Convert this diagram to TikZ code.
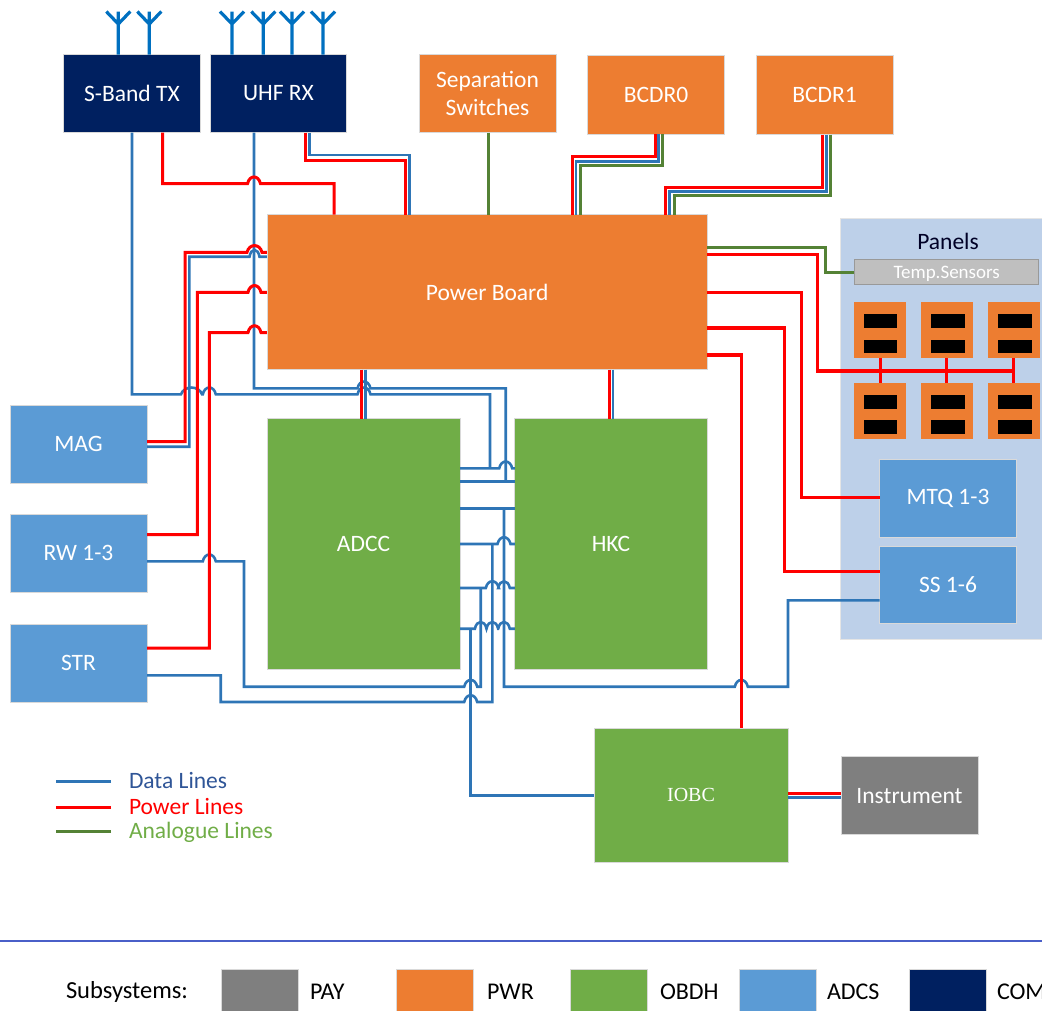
\documentclass[tikz,border=0pt]{standalone}
\usepackage{fontspec}
\setmainfont{Carlito}
\newfontfamily\iobcfont{Liberation Serif}
\usepackage{xcolor}
\usetikzlibrary{calc,positioning}

\definecolor{pwrorange}{HTML}{ED7D31}
\definecolor{obdhgreen}{HTML}{70AD47}
\definecolor{adcsblue}{HTML}{5B9BD5}
\definecolor{comnavy}{HTML}{002060}
\definecolor{paygrey}{HTML}{7F7F7F}
\definecolor{panelblue}{HTML}{BDD0E9}
\definecolor{dataline}{HTML}{2E75B6}
\definecolor{anaLine}{HTML}{548235}
\definecolor{antblue}{HTML}{0070C0}
\definecolor{datatext}{HTML}{2F5597}
\definecolor{rulecol}{HTML}{4A5FC8}

% wire hump over a crossing line: {half width}{x}{y}
\newcommand{\hop}[3]{-- (#2-#1,#3) .. controls (#2-#1*0.7,#3-9) and (#2+#1*0.7,#3-9) .. (#2+#1,#3)}

\begin{document}
\begin{tikzpicture}[
    x=1pt, y=-1pt,
    every node/.style={font=\fontsize{23.5}{27}\selectfont, outer sep=0pt, inner sep=0pt},
    blk/.style={rectangle, draw=black!15, line width=0.7pt, text=white, align=center,
                minimum width=137pt, minimum height=78pt},
    com/.style={blk, fill=comnavy},
    pwr/.style={blk, fill=pwrorange},
    obdh/.style={blk, fill=obdhgreen},
    adcs/.style={blk, fill=adcsblue},
    pay/.style={blk, fill=paygrey},
    cell/.style={rectangle, fill=pwrorange, minimum width=52pt, minimum height=56pt},
    bar/.style={rectangle, fill=black, minimum width=33.5pt, minimum height=14pt},
    data/.style={draw=dataline, line width=2.6pt, line join=miter},
    bus/.style={data, line width=3.6pt},
    pow/.style={draw=red, line width=3pt, line join=miter},
    powt/.style={pow, line width=3.4pt},
    ana/.style={draw=anaLine, line width=3pt, line join=miter},
    ant/.style={draw=antblue, line width=3.2pt},
    lbl/.style={anchor=west, text height=18pt, text depth=4pt}
]
\useasboundingbox (0,0) rectangle (1042,1010);

% panels background goes first
\node[rectangle, fill=panelblue, draw=black!10, line width=0.5pt, anchor=north west,
      minimum width=202pt, minimum height=421pt] (panels) at (840.5,218) {};
\node[anchor=center, text=black!85!blue] (paneltitle) at (948,241) {Panels};
\node[rectangle, fill=black!25, draw=black!40, line width=1pt, text=white, text height=12.5pt, text depth=0pt,
      minimum width=184.5pt, minimum height=25.5pt, font=\fontsize{19}{21}\selectfont] (temp) at (946.7,272.2) {Temp.Sensors};

% solar cells
\foreach \cx/\bx/\nm in {880.2/880.3/a, 947/948/b, 1013.5/1015/c}
  \foreach \cy/\ro in {330.3/t, 411/b} {
    \node[cell] (cell\nm\ro) at (\cx,\cy) {};
    \node[bar] (bar\nm\ro) at (\bx,\cy-9.5) {};
    \node[bar, minimum height=13.5pt] (baz\nm\ro) at (\bx,\cy+16) {};
  }

% boxes
\node[com] (sband) at (132,93.5) {S-Band TX};
\node[com, minimum width=136pt, right=10pt of sband] (uhf) {UHF RX};
\node[pwr] (sep) at (487.5,93.5) {Separation\\[1pt]Switches};
\node[pwr, minimum height=79pt] (bcdr0) at (656,94.5) {BCDR0};
\node[pwr, minimum height=79pt] (bcdr1) at (824.5,95) {BCDR1};
\node[pwr, minimum width=440.5pt, minimum height=155pt] (pb) at (487.2,292) {Power Board};
\node[obdh, minimum width=193pt, minimum height=250.5pt] (adcc) at (363.5,543.8) {ADCC};
\node[obdh, minimum width=192.5pt, minimum height=250.5pt] (hkc) at (611,543.8) {HKC};
\node[adcs] (mag) at (78.5,444) {MAG};
\node[adcs] (rw) at (78.5,553) {RW 1-3};
\node[adcs] (str) at (78.5,663) {STR};
\node[adcs] (mtq) at (948,498) {MTQ 1-3};
\node[adcs, minimum height=77.5pt] (ss) at (948,584.7) {SS 1-6};
\node[obdh, minimum width=194pt, minimum height=134pt, font=\iobcfont\fontsize{20}{24}\selectfont] (iobc) at (691,795) {IOBC};
\node[pay] (instr) at (909.5,795.7) {Instrument};

% antennas
\foreach \ax in {118.3,149.3,232,263.3,292,323}
  \draw[ant] (\ax,0 |- sband.north) -- ++(0,-43) ++(-12,0) -- ++(12,12.5) -- ++(12,-12.5);

% data lines
\draw[data] (132,0 |- sband.south) -- (132,394.3) \hop{10.5}{191.5}{394.3} \hop{6.5}{209.3}{394.3} \hop{6.5}{364}{394.3} -- (490,394.3) -- (490,468.3);
\draw[data] (254,0 |- uhf.south) -- (254,388.3) \hop{6.5}{364}{388.3} -- (505.7,388.3) -- (505.7,481.3);
\draw[data] (309.3,0 |- uhf.south) -- (309.3,155) -- (409.3,155) -- (409.3,0 |- pb.north);
\draw[data] (658.7,0 |- bcdr0.south) -- (658.7,161.7) -- (576,161.7) -- (576,0 |- pb.north);
\draw[data] (826.7,0 |- bcdr1.south) -- (826.7,191.3) -- (669.7,191.3) -- (669.7,0 |- pb.north);
\draw[data] (mag.east |- 0,446.7) -- (189.3,446.7) -- (189.3,256.7) \hop{5}{254.5}{256.7} -- (pb.west |- 0,256.7);
\draw[data] (365.7,0 |- pb.south) -- (365.7,0 |- adcc.north);
\draw[data] (613,0 |- pb.south) -- (613,0 |- hkc.north);
\draw[data] (adcc.east |- 0,468.3) \hop{6.5}{505.7}{468.3} -- (hkc.west |- 0,468.3);
\draw[bus] (adcc.east |- 0,481.3) -- (hkc.west |- 0,481.3);
\draw[bus] (adcc.east |- 0,508.3) -- (hkc.west |- 0,508.3);
\draw[data] (adcc.east |- 0,544) \hop{6.5}{504}{544} -- (hkc.west |- 0,544);
\draw[data] (adcc.east |- 0,588) \hop{6.5}{492.3}{588} \hop{5.8}{504}{588} -- (hkc.west |- 0,588);
\draw[data] (adcc.east |- 0,628.7) \hop{5.8}{480.7}{628.7} \hop{5.8}{492.3}{628.7} \hop{5.8}{504}{628.7} -- (hkc.west |- 0,628.7);
\draw[data] (504,508.3) -- (504,686.7) \hop{6.5}{741.3}{686.7} -- (788,686.7) -- (788,600.3) -- (ss.west |- 0,600.3);
\draw[data] (rw.east |- 0,561.3) \hop{6.5}{209.3}{561.3} -- (244,561.3) -- (244,686.7) \hop{6.5}{470.7}{686.7} -- (480.7,686.7) -- (480.7,588);
\draw[data] (str.east |- 0,675.3) -- (220.7,675.3) -- (220.7,702) \hop{6.5}{470.7}{702} -- (492.3,702) -- (492.3,544);
\draw[data, line width=3pt] (470.7,628.7) -- (470.7,795) -- (iobc.west |- 0,795);
\draw[data] (iobc.east |- 0,797.3) -- (instr.west |- 0,797.3);

% power lines
\draw[pow] (162.7,0 |- sband.south) -- (162.7,183.7) \hop{6.5}{254}{183.7} -- (334,183.7) -- (334,0 |- pb.north);
\draw[pow] (305.3,0 |- uhf.south) -- (305.3,160) -- (405.3,160) -- (405.3,0 |- pb.north);
\draw[pow] (655,0 |- bcdr0.south) -- (655,156.7) -- (572.3,156.7) -- (572.3,0 |- pb.north);
\draw[pow] (822.7,0 |- bcdr1.south) -- (822.7,187.3) -- (665.7,187.3) -- (665.7,0 |- pb.north);
\draw[pow] (mag.east |- 0,441.7) -- (185,441.7) -- (185,252.3) \hop{7.5}{254.5}{252.3} -- (pb.west |- 0,252.3);
\draw[pow] (rw.east |- 0,534.7) -- (197.3,534.7) -- (197.3,292.3) \hop{6.5}{254.5}{292.3} -- (pb.west |- 0,292.3);
\draw[pow] (str.east |- 0,648) -- (209.3,648) -- (209.3,332.5) \hop{6.5}{254.5}{332.5} -- (pb.west |- 0,332.5);
\draw[pow] (361.7,0 |- pb.south) -- (361.7,0 |- adcc.north);
\draw[pow] (609,0 |- pb.south) -- (609,0 |- hkc.north);
\draw[powt] (pb.east |- 0,254.7) -- (817.7,254.7) -- (817.7,371) -- (1013.7,371);
\draw[powt] (880.3,0 |- cellat.south) -- (880.3,0 |- cellab.north);
\draw[powt] (946.7,0 |- cellbt.south) -- (946.7,0 |- cellbb.north);
\draw[powt] (1013.7,0 |- cellct.south) -- (1013.7,0 |- cellcb.north);
\draw[powt] (pb.east |- 0,292.7) -- (801.3,292.7) -- (801.3,497.3) -- (mtq.west |- 0,497.3);
\draw[powt] (pb.east |- 0,328) -- (784.3,328) -- (784.3,571.7) -- (ss.west |- 0,571.7);
\draw[powt] (pb.east |- 0,355) -- (741.3,355) -- (741.3,0 |- iobc.north);
\draw[pow] (iobc.east |- 0,793.3) -- (instr.west |- 0,793.3);

% analogue lines
\draw[ana] (488,0 |- sep.south) -- (488,0 |- pb.north);
\draw[ana] (662.3,0 |- bcdr0.south) -- (662.3,165.7) -- (580,165.7) -- (580,0 |- pb.north);
\draw[ana] (830.7,0 |- bcdr1.south) -- (830.7,195.7) -- (674,195.7) -- (674,0 |- pb.north);
\draw[ana] (pb.east |- 0,247.7) -- (825.3,247.7) -- (825.3,272.3) -- (temp.west |- 0,272.3);

% line legend
\coordinate (ldata) at (111,781);
\coordinate (lpow) at (111,807);
\coordinate (lana) at (111,831);
\draw[data, line width=3pt] (ldata) -- ++(-55,0);
\draw[pow] (lpow) -- ++(-55,0);
\draw[ana] (lana) -- ++(-55,0);
\node[lbl, right=18pt of ldata, text=datatext] (tdata) {Data Lines};
\node[lbl, right=18pt of lpow, text=red] (tpow) {Power Lines};
\node[lbl, right=18pt of lana, text=obdhgreen] (tana) {Analogue Lines};

% subsystem key
\draw[line width=2.4pt, draw=rulecol] (0,941) coordinate (rulea) -- (1042,941) coordinate (ruleb);
\node[lbl, font=\fontsize{24.5}{28}\selectfont] (keytitle) at (66,991) {Subsystems:};
\foreach \kx/\lx/\fc/\kname in {221/310/paygrey/PAY, 396/487/pwrorange/PWR, 570/660/obdhgreen/OBDH, 739/827/adcsblue/ADCS, 909/997/comnavy/COM} {
  \node[rectangle, fill=\fc, draw=black!15, line width=0.5pt, anchor=north west,
        minimum width=77pt, minimum height=50pt] (key\kname) at (\kx,969) {};
  \node[lbl, font=\fontsize{24}{28}\selectfont] (lab\kname) at (\lx,992.5) {\kname};
}
\end{tikzpicture}
\end{document}
